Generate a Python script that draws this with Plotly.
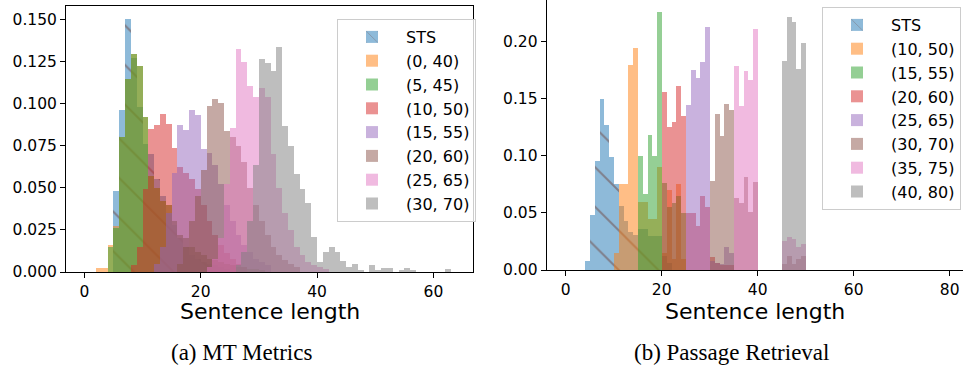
import numpy as np
import plotly.graph_objects as go

# ---------------- data (density per unit-width bin) ----------------
names_left = ["STS", "(0, 40)", "(5, 45)", "(10, 50)", "(15, 55)", "(20, 60)", "(25, 65)", "(30, 70)"]
names_right = ["STS", "(10, 50)", "(15, 55)", "(20, 60)", "(25, 65)", "(30, 70)", "(35, 75)", "(40, 80)"]

# Left panel (MT Metrics): first bin edge of each series, then heights
left_starts = [5, 2, 4, 8, 12, 16, 21, 26]
left_sts = [0.048, 0.096, 0.150, 0.127, 0.098, 0.076, 0.070, 0.055, 0.045, 0.035,
            0.028, 0.020, 0.015, 0.010, 0.008, 0.006, 0.005, 0.004, 0.003, 0.002]
left_0_40 = [0.0026, 0.0026, 0.016, 0.027, 0.080, 0.1146, 0.1295, 0.122, 0.092, 0.057,
             0.050, 0.042, 0.040, 0.030, 0.022, 0.020, 0.015, 0.012, 0.010, 0.008,
             0.007, 0.006, 0.005, 0.004, 0.003, 0.003, 0.002, 0.002, 0.001]
left_5_45 = [0.0147, 0.026, 0.080, 0.1146, 0.1295, 0.122, 0.092, 0.057, 0.050, 0.042,
             0.040, 0.030, 0.022, 0.020, 0.015, 0.012, 0.010, 0.008, 0.007, 0.006,
             0.005, 0.004, 0.003, 0.003, 0.002, 0.002, 0.001]
left_10_50 = [0.004, 0.015, 0.049, 0.085, 0.087, 0.094, 0.088, 0.0736, 0.0625, 0.059,
              0.055, 0.049, 0.040, 0.030, 0.022, 0.016, 0.011, 0.008, 0.005, 0.003]
left_15_55 = [0.005, 0.015, 0.035, 0.0586, 0.087, 0.084, 0.096, 0.093, 0.073, 0.0705,
              0.0636, 0.052, 0.040, 0.030, 0.022, 0.016, 0.012, 0.008, 0.006, 0.004]
left_20_60 = [0.005, 0.015, 0.030, 0.045, 0.0606, 0.0986, 0.1025, 0.100, 0.0837, 0.080,
              0.075, 0.065, 0.050, 0.040, 0.030, 0.022, 0.015, 0.010, 0.007, 0.005, 0.003]
left_25_65 = [0.003, 0.008, 0.020, 0.052, 0.0853, 0.132, 0.1243, 0.1105, 0.1037, 0.109,
              0.104, 0.070, 0.050, 0.035, 0.025, 0.015, 0.010, 0.006, 0.004, 0.003, 0.002]
left_30_70 = [0.004, 0.012, 0.030, 0.0636, 0.1265, 0.124, 0.1194, 0.1334, 0.0867, 0.075,
              0.058, 0.049, 0.041, 0.021, 0.006, 0.012, 0.015, 0.012, 0.0065, 0.003,
              0.0045, 0.001, 0.0, 0.004, 0.001, 0.0025, 0.0025, 0.0, 0.001, 0.0025,
              0.001, 0.0, 0.0, 0.0, 0.0, 0.0, 0.002]

# Right panel (Passage Retrieval)
right_starts = [4, 10, 15, 20, 25, 30, 35, 45]
right_sts = [0.008, 0.048, 0.096, 0.150, 0.127, 0.099, 0.075, 0.056, 0.043, 0.033,
             0.031, 0.036, 0.036, 0.030, 0.030, 0.030, 0.012, 0.006]
right_10_50 = [0.015, 0.075, 0.075, 0.180, 0.195, 0.060, 0.060, 0.045, 0.045, 0.090,
               0.015, 0.070, 0.010, 0.075, 0.010]
right_15_55 = [0.100, 0.067, 0.118, 0.100, 0.226, 0.076, 0.055, 0.059, 0.065, 0.050]
right_20_60 = [0.156, 0.125, 0.130, 0.161, 0.135, 0.050, 0.050, 0.039, 0.065, 0.055,
               0.011, 0.006, 0.004, 0.004, 0.004]
right_25_65 = [0.145, 0.175, 0.168, 0.182, 0.213, 0.008, 0.006, 0.005, 0.020, 0.015]
right_30_70 = [0.078, 0.137, 0.1175, 0.1456, 0.1406, 0.063, 0.059, 0.082, 0.051, 0.077,
               0.0, 0.0, 0.0, 0.0, 0.0, 0.005, 0.012, 0.005, 0.010, 0.012]
right_35_75 = [0.179, 0.1436, 0.1746, 0.1667, 0.2114, 0.0, 0.0, 0.0, 0.0, 0.0,
               0.025, 0.029, 0.027, 0.020, 0.0225]
right_40_80 = [0.183, 0.222, 0.2175, 0.176, 0.199]

left_series = [left_sts, left_0_40, left_5_45, left_10_50, left_15_55, left_20_60, left_25_65, left_30_70]
right_series = [right_sts, right_10_50, right_15_55, right_20_60, right_25_65, right_30_70, right_35_75, right_40_80]

left_xticks = [0, 20, 40, 60]
left_yticks = [0, 0.025, 0.05, 0.075, 0.10, 0.125, 0.15]
right_xticks = [0, 20, 40, 60, 80]
right_yticks = [0, 0.05, 0.10, 0.15, 0.20]

colors = ["#1f77b4", "#ff7f0e", "#2ca02c", "#d62728", "#9467bd", "#8c564b", "#e377c2", "#7f7f7f"]

W, H = 963, 367
fig = go.Figure()


def add_panel(series, starts, names, xa, ya, legend):
    for i, (vals, st, nm) in enumerate(zip(series, starts, names)):
        x = np.arange(len(vals)) + st + 0.5
        marker = dict(color=colors[i], line=dict(width=0))
        if i == 0:
            marker["pattern"] = dict(shape="\\", size=28, solidity=0.07, fgcolor="#000018", fgopacity=1)
        fig.add_trace(go.Bar(x=x, y=vals, width=1.0, name=nm, marker=marker, opacity=0.5,
                             xaxis=xa, yaxis=ya, legend=legend, legendgroup=legend + str(i)))


add_panel(left_series, left_starts, names_left, "x", "y", "legend")
add_panel(right_series, right_starts, names_right, "x2", "y2", "legend2")

tickfont = dict(family="DejaVu Sans", size=15.5, color="black")
common = dict(showgrid=False, zeroline=False, ticks="outside", ticklen=5, tickwidth=1,
              tickcolor="black", showline=True, linecolor="black", linewidth=1, tickfont=tickfont,
              automargin=False)

legend_style = dict(font=dict(family="DejaVu Sans", size=16, color="black"),
                    bgcolor="rgba(255,255,255,0.8)", bordercolor="#cccccc", borderwidth=1,
                    xanchor="left", yanchor="top", traceorder="grouped", tracegroupgap=0,
                    itemwidth=58)

fig.update_layout(
    width=W, height=H, margin=dict(l=0, r=0, t=0, b=0, pad=0), autosize=False,
    paper_bgcolor="white", plot_bgcolor="white", barmode="overlay", bargap=0,
    xaxis=dict(domain=[66 / W, 473 / W], range=[-3.15, 66.8], anchor="y", tickvals=left_xticks,
               mirror=True, **common),
    yaxis=dict(domain=[1 - 272 / H, 1 - 6 / H], range=[0, 0.1578], anchor="x", tickvals=left_yticks,
               tickformat=".3f", mirror=True, **common),
    xaxis2=dict(domain=[546.7 / W, 1.0], range=[-3.96, 82.77], anchor="y2", tickvals=right_xticks,
                **common),
    yaxis2=dict(domain=[1 - 270 / H, 1.0], range=[0, 0.2368], anchor="x2", tickvals=right_yticks,
                tickformat=".2f", **common),
    legend=dict(x=337 / W, y=1 - 19 / H, **legend_style),
    legend2=dict(x=822 / W, y=1 - 7 / H, **legend_style),
    showlegend=True,
)

label_font = dict(family="DejaVu Sans", size=22, color="black")
cap_font = dict(family="Liberation Serif", size=23, color="black")
fig.add_annotation(text="Sentence length", x=(66 + 473) / 2 / W, y=1 - 311 / H, xref="paper", yref="paper",
                   showarrow=False, font=label_font, xanchor="center", yanchor="middle")
fig.add_annotation(text="Sentence length", x=(546.7 + 963) / 2 / W, y=1 - 311 / H, xref="paper", yref="paper",
                   showarrow=False, font=label_font, xanchor="center", yanchor="middle")
fig.add_annotation(text="(a) MT Metrics", x=241 / W, y=1 - 352 / H, xref="paper", yref="paper",
                   showarrow=False, font=cap_font, xanchor="center", yanchor="middle")
fig.add_annotation(text="(b) Passage Retrieval", x=731 / W, y=1 - 352 / H, xref="paper", yref="paper",
                   showarrow=False, font=cap_font, xanchor="center", yanchor="middle")

fig.write_html("out.html")
